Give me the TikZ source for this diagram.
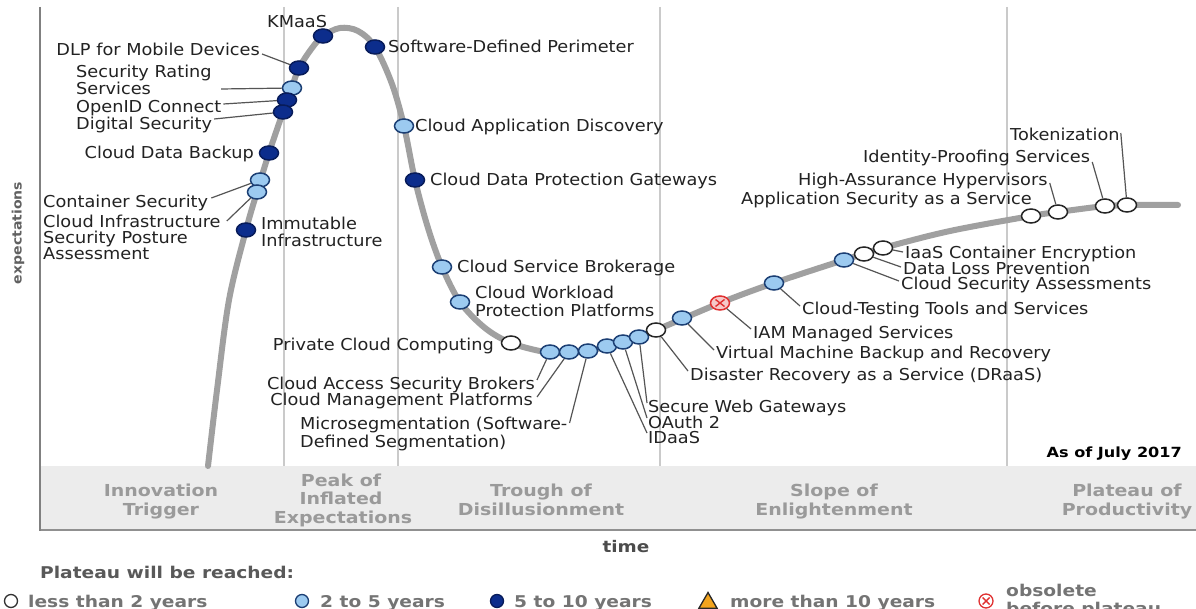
\documentclass[tikz,border=0pt]{standalone}
\usepackage{fontspec}
\usetikzlibrary{shapes.geometric,calc}
\newfontfamily\labfont[FakeStretch=1.08]{DejaVu Sans}
\newfontfamily\widefont[FakeStretch=1.15]{DejaVu Sans}
\definecolor{dotdark}{HTML}{0C2D8C}
\definecolor{dotdarkb}{HTML}{081C5A}
\definecolor{dotlight}{HTML}{9CCAF0}
\definecolor{dotlightb}{HTML}{1C3F74}
\definecolor{obsred}{HTML}{E03030}
\definecolor{obsfill}{HTML}{F6C8C8}
\definecolor{curvec}{HTML}{A0A0A0}
\definecolor{axisc}{HTML}{808080}
\definecolor{divc}{HTML}{CACACA}
\definecolor{bandc}{HTML}{ECECEC}
\definecolor{bandline}{HTML}{909090}
\definecolor{labtext}{HTML}{222222}
\definecolor{leadc}{HTML}{555555}
\definecolor{phasec}{HTML}{9A9A9A}
\definecolor{legc}{HTML}{747474}
\definecolor{orangec}{HTML}{F2A41E}
\begin{document}
\begin{tikzpicture}[x=1pt,y=-1pt,
  lbl/.style={font=\labfont\fontsize{16.4pt}{18pt}\selectfont, text=labtext, inner sep=0pt, anchor=base west},
  lble/.style={lbl, anchor=base east},
  dot/.style={ellipse, minimum width=19pt, minimum height=14pt, inner sep=0pt, line width=1.5pt},
  dw/.style={dot, fill=white, draw=black!85},
  dl/.style={dot, fill=dotlight, draw=dotlightb},
  dd/.style={dot, fill=dotdark, draw=dotdarkb},
  dx/.style={dot, fill=obsfill, draw=obsred, path picture={
      \draw[obsred, line width=1.4pt]
        ([shift={(-4.5pt,-3.5pt)}]path picture bounding box.center) -- ([shift={(4.5pt,3.5pt)}]path picture bounding box.center)
        ([shift={(-4.5pt,3.5pt)}]path picture bounding box.center) -- ([shift={(4.5pt,-3.5pt)}]path picture bounding box.center);}},
  leader/.style={draw=leadc, line width=1.2pt},
  curve/.style={draw=curvec, line width=6pt, line cap=round},
  phase/.style={font=\widefont\bfseries\fontsize{16.5pt}{18pt}\selectfont, text=phasec, inner sep=0pt, anchor=base},
  leg/.style={font=\widefont\bfseries\fontsize{16.2pt}{18pt}\selectfont, text=legc, inner sep=0pt, anchor=base west},
  kdot/.style={circle, minimum size=13pt, inner sep=0pt, line width=1.3pt}
]
\useasboundingbox (0,0) rectangle (1196,609);
\fill[white] (0,0) rectangle (1196,609);
% band
\fill[bandc] (40,466) rectangle (1196,530);
\draw[bandline, line width=2pt] (40,530) -- (1196,530);
% dividers
\foreach \xx in {284,398,660,1007} \draw[divc, line width=2pt] (\xx,7) -- (\xx,466);
\draw[axisc, line width=2pt] (40,7) -- (40,531);
% axis labels
\node[font=\labfont\bfseries\fontsize{13pt}{15pt}\selectfont, text=black!62, rotate=90, inner sep=0pt] (ylab) at (18,233) {expectations};
\node[font=\widefont\bfseries\fontsize{16pt}{18pt}\selectfont, text=black!70, inner sep=0pt, anchor=base] (xlab) at (626,552) {time};
\node[font=\widefont\bfseries\fontsize{14pt}{16pt}\selectfont, text=black, inner sep=0pt, anchor=base east] (asof) at (1182,457) {As of July 2017};
% phases
\node[phase] (p1a) at (161,496) {Innovation};
\node[phase] (p1b) at (161,515) {Trigger};
\node[phase] (p2a) at (341,486) {Peak of};
\node[phase] (p2b) at (341,504) {Inflated};
\node[phase] (p2c) at (343,523) {Expectations};
\node[phase] (p3a) at (541,496) {Trough of};
\node[phase] (p3b) at (541,515) {Disillusionment};
\node[phase] (p4a) at (834,496) {Slope of};
\node[phase] (p4b) at (834,515) {Enlightenment};
\node[phase] (p5a) at (1127,496) {Plateau of};
\node[phase] (p5b) at (1127,515) {Productivity};
% curve
\draw[curve] plot[smooth, tension=0.55] coordinates {
 (208,466) (217,390) (229,300) (246,230) (257,192) (269,153) (283,112) (292,87) (299,68)
 (312,48) (323,36) (340,28) (358,31) (375,47) (392,84) (404,126) (415,180) (428,228)
 (442,267) (460,302) (485,328) (511,343) (545,352) (569,353) (592,350) (623,342)
 (656,330) (720,303) (774,283) (844,260) (883,248) (950,231) (1031,216) (1058,212)
 (1105,206) (1127,205) (1178,205)};
% dots
\node[dd] (dKM) at (323,36) {};
\node[dd] (dSDP) at (375,47) {};
\node[dd] (dDLPm) at (299,68) {};
\node[dl] (dSRS) at (292,88) {};
\node[dd] (dOID) at (287,100) {};
\node[dd] (dDS) at (283,112) {};
\node[dd] (dCDB) at (269,153) {};
\node[dl] (dCS) at (260,180) {};
\node[dl] (dCIS) at (257,192) {};
\node[dd] (dIMM) at (246,230) {};
\node[dl] (dCAD) at (404,126) {};
\node[dd] (dCDP) at (415,180) {};
\node[dl] (dCSB) at (442,267) {};
\node[dl] (dCWP) at (460,302) {};
\node[dw] (dPCC) at (511,343) {};
\node[dl] (dCASB) at (550,352) {};
\node[dl] (dCMP) at (569,352) {};
\node[dl] (dMS) at (588,351) {};
\node[dl] (dIDaaS) at (607,346) {};
\node[dl] (dOA) at (623,342) {};
\node[dl] (dSWG) at (639,337) {};
\node[dw] (dDR) at (656,330) {};
\node[dl] (dVM) at (682,318) {};
\node[dx] (dIAM) at (720,303) {};
\node[dl] (dCTT) at (774,283) {};
\node[dl] (dCSA) at (844,260) {};
\node[dw] (dDLP) at (864,254) {};
\node[dw] (dIaaS) at (883,248) {};
\node[dw] (dASaaS) at (1031,216) {};
\node[dw] (dHAH) at (1058,212) {};
\node[dw] (dIPS) at (1105,206) {};
\node[dw] (dTok) at (1127,205) {};
% labels, rising side
\node[lbl] (lKM) at (267,28) {KMaaS};
\node[lbl] (lSDP) at (388,53) {Software-Defined Perimeter};
\node[lble] (lDLPm) at (260,56) {DLP for Mobile Devices};
\node[lbl] (lSRS1) at (76,78) {Security Rating};
\node[lbl] (lSRS2) at (76,95) {Services};
\node[lbl] (lOID) at (76,113) {OpenID Connect};
\node[lbl] (lDS) at (76,130) {Digital Security};
\node[lble] (lCDB) at (254,159) {Cloud Data Backup};
\node[lbl] (lCS) at (43,208) {Container Security};
\node[lbl] (lCIS1) at (43,228) {Cloud Infrastructure};
\node[lbl] (lCIS2) at (43,244) {Security Posture};
\node[lbl] (lCIS3) at (43,260) {Assessment};
\node[lbl] (lIMM1) at (261,230) {Immutable};
\node[lbl] (lIMM2) at (261,247) {Infrastructure};
% descending side
\node[lbl] (lCAD) at (415,132) {Cloud Application Discovery};
\node[lbl] (lCDP) at (430,186) {Cloud Data Protection Gateways};
\node[lbl] (lCSB) at (457,273) {Cloud Service Brokerage};
\node[lbl] (lCWP1) at (475,299) {Cloud Workload};
\node[lbl] (lCWP2) at (475,317) {Protection Platforms};
\node[lble] (lPCC) at (494,351) {Private Cloud Computing};
% trough
\node[lble] (lCASB) at (535,389) {Cloud Access Security Brokers};
\node[lble] (lCMP) at (533,405) {Cloud Management Platforms};
\node[lbl] (lMS1) at (300,429) {Microsegmentation (Software-};
\node[lbl] (lMS2) at (300,447) {Defined Segmentation)};
\node[lbl] (lSWG) at (648,412) {Secure Web Gateways};
\node[lbl] (lOA) at (648,428) {OAuth 2};
\node[lbl] (lIDaaS) at (648,443) {IDaaS};
% slope
\node[lbl] (lDR) at (690,381) {Disaster Recovery as a Service (DRaaS)};
\node[lbl] (lVM) at (716,359) {Virtual Machine Backup and Recovery};
\node[lbl] (lIAM) at (753,338) {IAM Managed Services};
\node[lbl] (lCTT) at (802,315) {Cloud-Testing Tools and Services};
\node[lbl] (lCSA) at (901,290) {Cloud Security Assessments};
\node[lbl] (lDLP) at (903,275) {Data Loss Prevention};
\node[lbl] (lIaaS) at (905,259) {IaaS Container Encryption};
\node[lbl] (lASaaS) at (741,205) {Application Security as a Service};
\node[lbl] (lHAH) at (798,186) {High-Assurance Hypervisors};
\node[lbl] (lIPS) at (863,163) {Identity-Proofing Services};
\node[lbl] (lTok) at (1010,141) {Tokenization};
% leaders
\draw[leader] ($(lDLPm.base east)+(2,-2)$) -- (dDLPm);
\draw[leader] ($(lSRS2.base east)+(70,-6)$) -- (dSRS);
\draw[leader] ($(lOID.base east)+(2,-9)$) -- (dOID);
\draw[leader] ($(lDS.base east)+(2,-11)$) -- (dDS);
\draw[leader] ($(lCS.base east)+(3,-10)$) -- (dCS);
\draw[leader] ($(lCIS1.base east)+(6,-7)$) -- (dCIS);
\draw[leader] ($(lCASB.base east)+(2,-9)$) -- (dCASB);
\draw[leader] ($(lCMP.base east)+(4,-8)$) -- (dCMP);
\draw[leader] ($(lMS1.base east)+(2,-6)$) -- (dMS);
\draw[leader] ($(lSWG.base west)+(-1,-9)$) -- (dSWG);
\draw[leader] ($(lOA.base west)+(-1,-10)$) -- (dOA);
\draw[leader] ($(lIDaaS.base west)+(-1,-10)$) -- (dIDaaS);
\draw[leader] ($(lDR.base west)+(-2,-10)$) -- (dDR);
\draw[leader] ($(lVM.base west)+(-2,-9)$) -- (dVM);
\draw[leader] ($(lIAM.base west)+(-2,-9)$) -- (dIAM);
\draw[leader] ($(lCTT.base west)+(-2,-9)$) -- (dCTT);
\draw[leader] ($(lCSA.base west)+(-2,-9)$) -- (dCSA);
\draw[leader] ($(lDLP.base west)+(-2,-8)$) -- (dDLP);
\draw[leader] ($(lIaaS.base west)+(-2,-7)$) -- (dIaaS);
\draw[leader] ($(lHAH.base east)+(2,-3)$) -- (dHAH);
\draw[leader] ($(lIPS.base east)+(2,-1)$) -- (dIPS);
\draw[leader] ($(lTok.base east)+(1,-8)$) -- (dTok);
% legend
\node[leg, text=black!65] (lgT) at (40,578) {Plateau will be reached:};
\node[kdot, fill=white, draw=black!80] (k1) at (11,601) {};
\node[leg] (k1t) at (28,607) {less than 2 years};
\node[kdot, fill=dotlight, draw=dotlightb] (k2) at (302,601) {};
\node[leg] (k2t) at (320,607) {2 to 5 years};
\node[kdot, fill=dotdark, draw=dotdarkb] (k3) at (497,601) {};
\node[leg] (k3t) at (514,607) {5 to 10 years};
\node[regular polygon, regular polygon sides=3, minimum size=21pt, inner sep=0pt, fill=orangec, draw=black!85, line width=1.3pt] (k4) at (708,603) {};
\node[leg] (k4t) at (730,607) {more than 10 years};
\node[kdot, fill=white, draw=obsred, minimum size=14pt, path picture={
      \draw[obsred, line width=1.4pt]
        ([shift={(-3.5pt,-3.5pt)}]path picture bounding box.center) -- ([shift={(3.5pt,3.5pt)}]path picture bounding box.center)
        ([shift={(-3.5pt,3.5pt)}]path picture bounding box.center) -- ([shift={(3.5pt,-3.5pt)}]path picture bounding box.center);}] (k5) at (986,601) {};
\node[leg] (k5t) at (1006,596) {obsolete};
\node[leg] (k5u) at (1006,614) {before plateau};
\end{tikzpicture}
\end{document}
